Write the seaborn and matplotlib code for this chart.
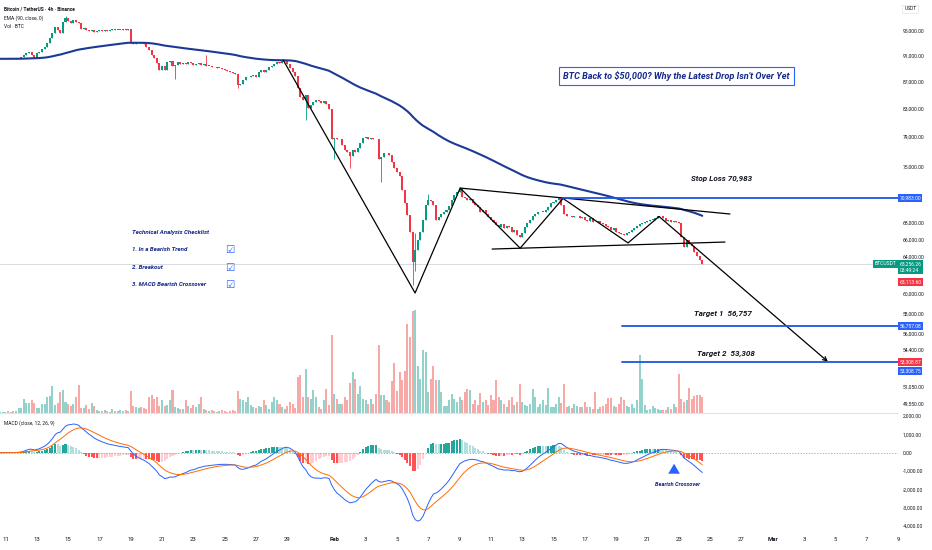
import numpy as np
import pandas as pd
import matplotlib
matplotlib.use('Agg')
import matplotlib.pyplot as plt
import seaborn as sns
from matplotlib.ticker import FixedLocator, FixedFormatter, NullLocator

# BTCUSDT 4h closes (thousand USDT), first candle Jan 10 16:00
closes = [
    90.5, 90.5, 90.6, 90.5, 90.6, 90.5, 90.6, 90.6, 90.8, 91.1,
    91.4, 91.6, 91.1, 90.6, 91.4, 91.6, 92.1, 92.4, 93.0, 93.9,
    94.7, 95.7, 95.2, 94.7, 96.5, 97.2, 96.7, 96.4, 96.9, 96.5,
    96.4, 95.3, 95.5, 95.2, 95.0, 95.2, 94.9, 95.0, 95.2, 95.0,
    95.2, 95.0, 95.2, 95.3, 95.2, 95.2, 95.2, 95.3, 95.2, 95.3,
    93.2, 92.9, 93.0, 93.2, 93.0, 92.9, 92.4, 91.9, 91.1, 90.6,
    89.9, 88.8, 89.4, 88.8, 90.0, 90.2, 89.4, 89.5, 90.0, 89.7,
    89.9, 89.7, 90.0, 89.9, 89.5, 89.7, 89.9, 89.5, 89.7, 89.4,
    89.4, 89.2, 89.2, 89.1, 89.1, 88.9, 88.8, 88.6, 88.5, 88.3,
    88.2, 86.5, 86.6, 87.2, 87.6, 87.7, 87.9, 88.0, 87.7, 88.5,
    88.8, 88.5, 88.8, 89.2, 89.4, 89.7, 90.0, 89.9, 90.2, 90.3,
    89.7, 89.1, 88.5, 87.9, 86.0, 84.7, 84.2, 85.0, 83.1, 83.5,
    83.9, 84.2, 84.1, 83.8, 84.1, 83.6, 82.9, 78.6, 78.8, 78.6,
    78.7, 77.9, 77.2, 76.9, 76.4, 77.2, 76.9, 77.5, 78.1, 78.8,
    78.9, 78.7, 78.8, 78.7, 78.6, 75.9, 76.2, 76.8, 76.7, 76.5,
    75.6, 74.8, 74.3, 73.7, 72.0, 70.4, 68.9, 66.9, 63.5, 64.8,
    65.9, 66.9, 68.3, 70.1, 70.7, 70.6, 70.1, 68.3, 68.6, 69.0,
    69.3, 69.5, 70.0, 70.7, 71.3, 71.7, 72.1, 71.1, 71.0, 70.7,
    70.8, 70.3, 70.1, 69.8, 69.3, 69.5, 69.0, 68.6, 68.3, 68.1,
    67.7, 67.4, 67.8, 67.3, 67.6, 67.4, 66.9, 67.1, 66.5, 66.3,
    66.8, 67.4, 67.9, 68.3, 68.7, 69.0, 69.2, 69.3, 69.3, 69.5,
    69.9, 70.3, 70.5, 70.7, 71.0, 70.1, 69.0, 68.7, 68.8, 68.6,
    68.7, 68.8, 68.5, 68.6, 68.3, 68.2, 68.5, 68.1, 68.0, 68.2,
    67.9, 67.8, 67.6, 67.4, 67.1, 67.3, 66.9, 66.8, 66.6, 66.5,
    66.7, 66.9, 67.1, 67.3, 67.6, 67.8, 67.9, 68.1, 68.2, 68.3,
    68.3, 68.5, 68.7, 68.8, 68.5, 68.2, 68.3, 68.1, 68.2, 68.0,
    67.9, 66.3, 65.1, 65.9, 65.5, 65.3, 64.6, 64.1, 63.7, 63.25626,
]
first_open = 90.4

# notable wicks (candle index -> price, thousand USDT)
hi_idx = [25, 79, 159, 164]
hi_val = [97.6, 91.1, 66.8, 71.5]
lo_idx = [67, 91, 117, 128, 134, 146, 158, 159]
lo_val = [87.3, 86.0, 81.3, 75.9, 74.8, 73.0, 60.9, 62.5]

# volume (relative units)
volume = [
    1, 1, 1, 2, 1, 2, 2, 5, 5, 14,
    10, 10, 13, 10, 5, 5, 9, 9, 16, 17,
    27, 8, 10, 21, 23, 11, 9, 7, 9, 16,
    28, 5, 5, 8, 4, 10, 7, 3, 2, 2,
    3, 2, 1, 4, 2, 2, 3, 2, 3, 2,
    22, 7, 6, 5, 6, 5, 4, 16, 18, 14,
    16, 7, 13, 7, 8, 13, 23, 6, 5, 4,
    4, 13, 7, 5, 8, 6, 9, 16, 4, 3,
    2, 3, 2, 1, 2, 3, 2, 1, 2, 3,
    2, 22, 14, 13, 11, 16, 8, 6, 5, 7,
    6, 13, 8, 4, 11, 16, 13, 9, 6, 4,
    7, 11, 9, 5, 36, 38, 16, 44, 16, 14,
    23, 16, 6, 4, 13, 24, 8, 78, 19, 14,
    9, 9, 16, 13, 30, 41, 34, 19, 27, 14,
    13, 9, 14, 9, 19, 68, 18, 18, 13, 11,
    32, 50, 22, 41, 33, 42, 89, 76, 102, 103,
    47, 34, 63, 61, 21, 34, 47, 33, 33, 21,
    7, 7, 13, 19, 14, 11, 16, 13, 21, 24,
    23, 9, 13, 8, 20, 11, 13, 8, 18, 13,
    33, 16, 13, 9, 6, 13, 16, 8, 11, 29,
    11, 8, 7, 9, 24, 16, 6, 9, 13, 8,
    25, 6, 6, 9, 16, 10, 29, 6, 7, 5,
    9, 7, 6, 6, 11, 6, 6, 4, 21, 4,
    6, 7, 9, 15, 15, 7, 6, 9, 16, 13,
    7, 6, 9, 5, 13, 58, 34, 8, 3, 4,
    7, 5, 4, 3, 3, 3, 6, 4, 9, 6,
    39, 14, 11, 13, 25, 14, 17, 18, 18, 16,
]

# levels
stop_loss = 70983
target1 = 56757
target2 = 53308

# drawings: days after Jan 11, price
zig_day = [17.74, 26.16, 29.04, 32.87, 35.61, 39.76, 41.74]
zig_price = [90300, 60100, 72200, 65000, 70900, 65600, 68700]
arrow_end = (52.52, 53308)
upper_day = [29.04, 46.27]
upper_price = [72200, 69000]
lower_day = [31.08, 45.95]
lower_price = [64900, 65700]

price_ticks = [95000, 91000, 87000, 83000, 79000, 75000, 68000, 66000, 64000,
               60000, 58000, 56000, 54400, 51050, 49550]
macd_ticks = [2000, 1000, 0, -1000, -2000, -3000, -4000]

checklist = ['1. In a Bearish Trend', '2. Breakout', '3. MACD Bearish Crossover']
title = "BTC Back to $50,000? Why the Latest Drop Isn't Over Yet"

# ---------------------------------------------------------------
t0 = pd.Timestamp('2026-01-11')
times = pd.date_range('2026-01-10 16:00', periods=len(closes), freq='4h')
t = ((times - t0) / pd.Timedelta(days=1)).to_numpy()

c = np.array(closes) * 1000
o = np.concatenate([[first_open * 1000], c[:-1]])
hi = np.maximum(o, c)
lo = np.minimum(o, c)
hi[hi_idx] = np.array(hi_val) * 1000
lo[lo_idx] = np.array(lo_val) * 1000
up = c >= o

s = pd.Series(c)
ema = s.ewm(span=90, adjust=False).mean()
macd = s.ewm(span=12, adjust=False).mean() - s.ewm(span=26, adjust=False).mean()
signal = macd.ewm(span=9, adjust=False).mean()
hist = (macd - signal).to_numpy()
prev = np.concatenate([[0], hist[:-1]])
hcol = np.where(hist >= 0,
                np.where(hist >= prev, '#26a69a', '#b2dfdb'),
                np.where(hist < prev, '#ff5252', '#ffcdd2'))

tick_dates = (pd.date_range('2026-01-11', '2026-01-29', freq='2D')
              .append(pd.date_range('2026-02-01', '2026-02-27', freq='2D'))
              .append(pd.date_range('2026-03-01', '2026-03-09', freq='2D')))
tick_days = ((tick_dates - t0) / pd.Timedelta(days=1)).to_numpy()
tick_labels = [d.strftime('%b') if d.day == 1 else str(d.day) for d in tick_dates]

sns.set_theme(style='white')
plt.rcParams['font.family'] = ['Roboto', 'DejaVu Sans']

fig = plt.figure(figsize=(9.32, 5.5), dpi=100)
ax = fig.add_axes([0, 0.2491, 0.9635, 0.7509])
axv = ax.twinx()
axm = fig.add_axes([0, 0.0309, 0.9635, 0.2182])

UP, DOWN = '#089981', '#f23645'
BLUE = '#2962ff'
NAVY = '#13288a'
xlim = (-0.35, 57.0)
bw = 0.13

# volume
axv.bar(t, volume, width=bw, color=np.where(up, '#92d2ca', '#f7a9a7'), linewidth=0)
axv.set_ylim(0, max(volume) * 4.0)
axv.set_axis_off()
ax.set_zorder(axv.get_zorder() + 1)
ax.patch.set_visible(False)

# candles
ax.set_yscale('log')
ccol = np.where(up, UP, DOWN)
ax.vlines(t, lo, hi, colors=ccol, linewidth=0.6, zorder=2)
ax.bar(t, np.maximum(np.abs(c - o), 60), bottom=np.minimum(o, c), width=bw,
       color=ccol, linewidth=0, zorder=3)

sns.lineplot(x=t, y=ema.to_numpy(), ax=ax, color='#1c3a94', linewidth=1.5, legend=False, zorder=4)

ax.axhline(c[-1], color='#d8dbe2', linewidth=0.7, zorder=1)

# trend drawings
ax.plot(zig_day, zig_price, color='black', linewidth=0.9, zorder=5)
ax.plot(upper_day, upper_price, color='black', linewidth=0.9, zorder=5)
ax.plot(lower_day, lower_price, color='black', linewidth=0.9, zorder=5)
ax.annotate('', xy=arrow_end, xytext=(zig_day[-1], zig_price[-1]),
            arrowprops=dict(arrowstyle='->', color='black', lw=0.9, shrinkA=0, shrinkB=0,
                            mutation_scale=7), zorder=5)

# level lines
ax.plot([zig_day[4], xlim[1]], [stop_loss, stop_loss], color='#1e53e5', linewidth=1.3, zorder=5)
ax.plot([39.4, xlim[1]], [target1, target1], color='#1e53e5', linewidth=1.3, zorder=5)
ax.plot([39.4, xlim[1]], [target2, target2], color='#1e53e5', linewidth=1.3, zorder=5)

lbl = dict(fontsize=5.8, style='italic', fontweight='semibold', color='#131722', va='center')
ax.text(43.8, 73400, f'Stop Loss {stop_loss:,}', **lbl)
ax.text(43.97, 57940, f'Target 1  {target1:,}', **lbl)
ax.text(44.16, 54030, f'Target 2  {target2:,}', **lbl)

ax.set_ylim(48730, 100300)
ax.set_xlim(*xlim)
ax.yaxis.tick_right()
ax.yaxis.set_major_locator(FixedLocator(price_ticks))
ax.yaxis.set_major_formatter(FixedFormatter([f'{v:,.2f}' for v in price_ticks]))
ax.yaxis.set_minor_locator(NullLocator())
ax.tick_params(axis='y', length=0, pad=3.6, labelsize=3.6, labelcolor='#131722')
ax.set_xticks([])
ax.set_xlabel('')
ax.set_ylabel('')
for side in ['top', 'left', 'right']:
    ax.spines[side].set_visible(False)
ax.spines['bottom'].set_color('#e0e3eb')
ax.spines['bottom'].set_linewidth(0.8)

# header texts
ax.text(0.004, 1 - 9 / 413, 'Bitcoin / TetherUS · 4h · Binance', transform=ax.transAxes,
        fontsize=3.5, fontweight='bold', color='#131722', va='center')
ax.text(0.004, 1 - 18 / 413, 'EMA (90, close, 0)', transform=ax.transAxes,
        fontsize=3.5, color='#131722', va='center')
ax.text(0.004, 1 - 27 / 413, 'Vol · BTC', transform=ax.transAxes,
        fontsize=3.5, color='#131722', va='center')
ax.text(1.007, 1 - 9 / 413, 'USDT', transform=ax.transAxes, fontsize=3.5, color='#131722',
        va='center', bbox=dict(boxstyle='square,pad=0.4', fc='white', ec='#e0e3eb', lw=0.5))

ax.text(0.753, 0.816, title, transform=ax.transAxes, ha='center', va='center',
        fontsize=6.6, style='italic', fontweight='bold', color=NAVY,
        bbox=dict(boxstyle='square,pad=0.45', fc='white', ec=BLUE, lw=0.8), zorder=6)

ax.text(0.147, 1 - 233 / 413, 'Technical Analysis Checklist', transform=ax.transAxes,
        fontsize=4.4, style='italic', fontweight='bold', color=NAVY, va='center')
for k, item in enumerate(checklist):
    yy = 1 - (250 + 17.5 * k) / 413
    ax.text(0.147, yy, item, transform=ax.transAxes, fontsize=4.4, style='italic',
            fontweight='bold', color=NAVY, va='center')
    ax.text(0.256, yy, '☑', transform=ax.transAxes, fontsize=7.5, color=BLUE,
            va='center', ha='center', family=['DejaVu Sans'])


def tag(axis, y, text, fc, dy=0, x=1.0, ha='left', dx=1):
    axis.annotate(text, xy=(x, y), xycoords=('axes fraction', 'data'), xytext=(dx, dy),
                  textcoords='offset points', ha=ha, va='center', fontsize=3.6, color='white',
                  linespacing=1.25, annotation_clip=False, zorder=10,
                  bbox=dict(boxstyle='square,pad=0.3', fc=fc, ec='none'))


tag(ax, stop_loss, f'{stop_loss:,.2f}', BLUE)
tag(ax, 56757.08, '56,757.08', BLUE)
tag(ax, 53308.87, '53,308.87', DOWN)
tag(ax, 53308.75, '53,308.75', BLUE, dy=-6.5)
tag(ax, c[-1], f'{c[-1]:,.2f}\n03:49:24', UP, dy=-2.5)
tag(ax, 63113.60, '63,113.60', DOWN, dy=-12.5)
tag(ax, c[-1], 'BTCUSDT', UP, dy=0, ha='right', dx=-1)

# MACD pane
axm.bar(t, hist, width=bw, color=hcol, linewidth=0)
sns.lineplot(x=t, y=macd.to_numpy(), ax=axm, color='#2962ff', linewidth=0.7, legend=False)
sns.lineplot(x=t, y=signal.to_numpy(), ax=axm, color='#ff6d00', linewidth=0.7, legend=False)
axm.axhline(0, color='#9598a1', linewidth=0.5, linestyle=(0, (2, 2)))
axm.set_ylim(-4380, 2165)
axm.set_xlim(*xlim)
axm.yaxis.tick_right()
axm.set_yticks(macd_ticks, [f'{v:,.2f}' for v in macd_ticks])
axm.set_xticks(tick_days, tick_labels)
axm.tick_params(axis='y', length=0, pad=3.6, labelsize=3.6, labelcolor='#131722')
axm.tick_params(axis='x', length=0, pad=3, labelsize=4.3, labelcolor='#131722')
for lab in axm.get_xticklabels():
    if lab.get_text() in ('Feb', 'Mar'):
        lab.set_fontweight('bold')
axm.set_xlabel('')
axm.set_ylabel('')
for side in axm.spines:
    axm.spines[side].set_visible(False)

axm.text(0.004, 0.917, 'MACD (close, 12, 26, 9)', transform=axm.transAxes,
         fontsize=3.5, color='#131722', va='center')
axm.annotate('', xy=(42.7, -450), xytext=(42.7, -1200),
             arrowprops=dict(arrowstyle='simple,head_width=0.7,head_length=0.6,tail_width=0.3',
                             color=BLUE, lw=0))
axm.text(42.95, -1720, 'Bearish Crossover', fontsize=4.1, style='italic', fontweight='bold',
         color=NAVY, ha='center', va='center')

fig.savefig('out.png', dpi=100)
